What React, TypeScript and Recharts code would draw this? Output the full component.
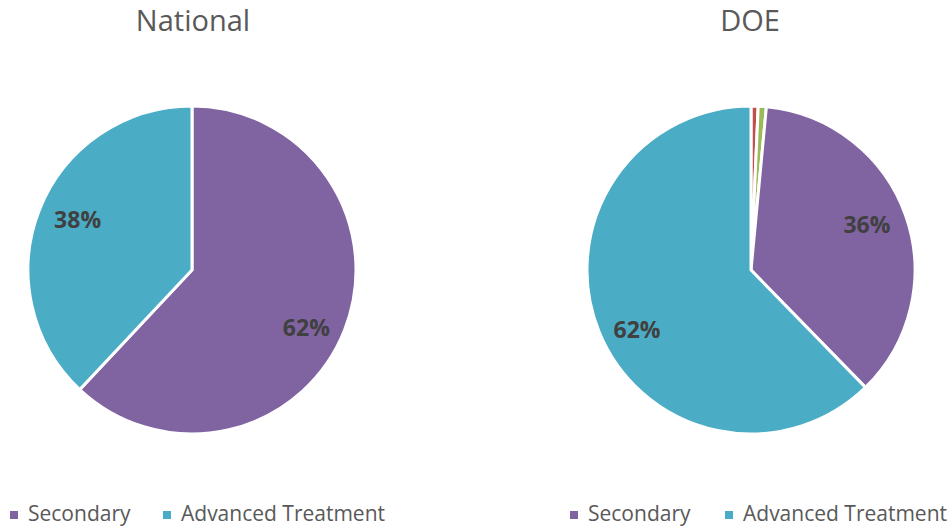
import { PieChart, Pie, Cell } from 'recharts'

const nationalNames = ['Secondary', 'Advanced Treatment']
const nationalValues = [62, 38]
const nationalColors = ['#8064A2', '#4BACC6']

const doeNames = ['Other A', 'Other B', 'Secondary', 'Advanced Treatment']
const doeValues = [0.7, 0.8, 36.2, 62.3]
const doeColors = ['#C0504D', '#9BBB59', '#8064A2', '#4BACC6']

const legendNames = ['Secondary', 'Advanced Treatment']
const legendColors = ['#8064A2', '#4BACC6']

const FONT = '"Open Sans", Lato, sans-serif'
const RAD = Math.PI / 180

const nationalData = nationalNames.map((name, i) => ({ name, value: nationalValues[i] }))
const doeData = doeNames.map((name, i) => ({ name, value: doeValues[i] }))

// Excel's best-fit labels sit a bit further out vertically than horizontally
function renderLabel(props: any) {
  const { cx, cy, midAngle, outerRadius, percent } = props
  if (percent < 0.05) return null
  const r = outerRadius * 0.75
  const x = cx + r * Math.cos(-midAngle * RAD)
  const y = cy + r * Math.sin(-midAngle * RAD) * 1.2 + 3
  return (
    <text x={x} y={y} fill="#404040" fontSize={23} fontWeight="bold" fontFamily={FONT}
      textAnchor="middle" dominantBaseline="central">
      {Math.round(percent * 100)}%
    </text>
  )
}

function Legend({ lefts }: { lefts: number[] }) {
  return (
    <>
      {legendNames.map((n, i) => (
        <div key={n} style={{ position: 'absolute', left: lefts[i], top: 499, display: 'flex', alignItems: 'center',
          fontFamily: FONT, fontSize: 21, color: '#595959', whiteSpace: 'nowrap' }}>
          <span style={{ width: 8, height: 8, background: legendColors[i], display: 'inline-block', marginRight: 10, marginTop: 3 }} />
          {n}
        </div>
      ))}
    </>
  )
}

export default function App() {
  const title = { position: 'absolute' as const, top: 0, width: 300, textAlign: 'center' as const,
    fontFamily: FONT, fontSize: 29, color: '#595959' }
  return (
    <div style={{ position: 'absolute', left: 0, top: 0, width: 948, height: 529, background: '#fff', overflow: 'hidden' }}>
      <PieChart width={948} height={529} margin={{ top: 0, right: 0, bottom: 0, left: 0 }}
        style={{ position: 'absolute', left: 0, top: 0 }}>
        <Pie data={nationalData} dataKey="value" cx={192} cy={270} outerRadius={164}
          startAngle={90} endAngle={-270} stroke="#fff" strokeWidth={3}
          label={renderLabel} labelLine={false} isAnimationActive={false}>
          {nationalData.map((d, i) => <Cell key={d.name} fill={nationalColors[i]} />)}
        </Pie>
        <Pie data={doeData} dataKey="value" cx={751} cy={270} outerRadius={164}
          startAngle={90} endAngle={-270} stroke="#fff" strokeWidth={3}
          label={renderLabel} labelLine={false} isAnimationActive={false}>
          {doeData.map((d, i) => <Cell key={d.name} fill={doeColors[i]} />)}
        </Pie>
      </PieChart>
      <div style={{ ...title, left: 43 }}>National</div>
      <div style={{ ...title, left: 600 }}>DOE</div>
      <Legend lefts={[10, 163]} />
      <Legend lefts={[570, 725]} />
    </div>
  )
}
